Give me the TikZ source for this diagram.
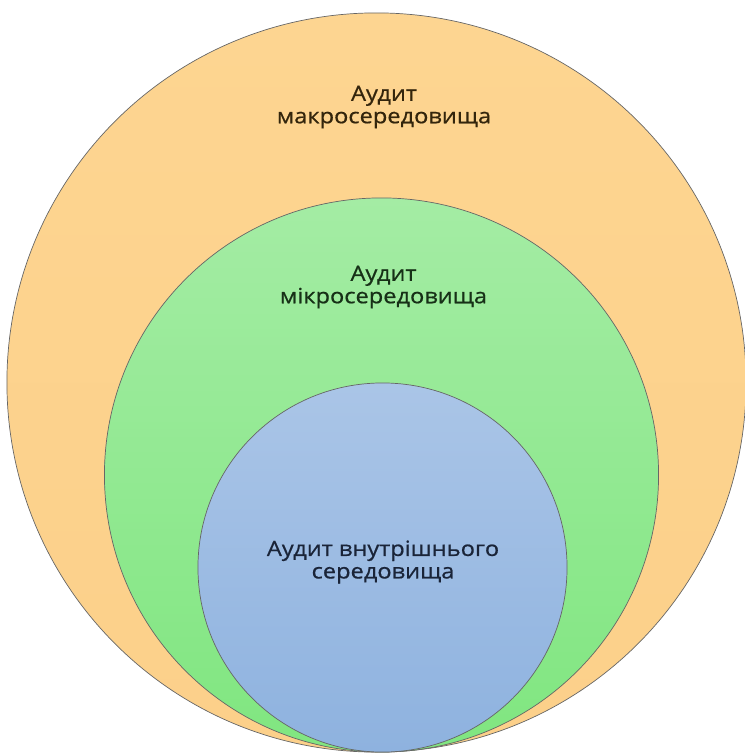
\documentclass[tikz,border=0pt]{standalone}
\usepackage{fontspec}
\setmainfont{Open Sans}[BoldFont={Open Sans}, BoldFeatures={FakeBold=0.6}]
\usepackage{tikz}
\usetikzlibrary{positioning}
\usepackage{xcolor}

\definecolor{macrofill}{HTML}{FDD591}
\definecolor{macrofillb}{HTML}{FCD08A}
\definecolor{microfill}{HTML}{A4ECA4}
\definecolor{microfillb}{HTML}{80E680}
\definecolor{innerfill}{HTML}{AAC5E7}
\definecolor{innerfillb}{HTML}{8EB2DF}
\definecolor{macrotext}{HTML}{33250C}
\definecolor{microtext}{HTML}{173017}
\definecolor{innertext}{HTML}{1A2438}

\newcommand{\wide}[1]{\scalebox{1.12}[1]{#1}}

\tikzset{
  ring/.style={circle, draw=black!60, line width=0.5pt, inner sep=0pt},
  label text/.style={align=center, font=\fontsize{15}{16}\selectfont\bfseries}
}

\begin{document}
\begin{tikzpicture}[x=0.025cm,y=-0.025cm]
\useasboundingbox (0,0) rectangle (744,754);
% circles, all touching at the bottom
\node[ring, top color=macrofill, bottom color=macrofillb, minimum size=18.475cm] (macro) at (376.5,382.5) {};
\node[ring, top color=microfill, bottom color=microfillb, minimum size=13.85cm] (micro) at (381.5,475) {};
\node[ring, top color=innerfill, bottom color=innerfillb, minimum size=9.225cm] (inner) at (382.5,567.5) {};
% labels
\node[label text, text=macrotext] (macrolabel) at (384,107) {\wide{Аудит}\\\wide{макросередовища}};
\node[label text, text=microtext] (microlabel) at (383.5,287) {\wide{Аудит}\\\wide{мікросередовища}};
\node[label text, text=innertext] (innerlabel) at (383,562) {\wide{Аудит внутрішнього}\\\wide{середовища}};
\end{tikzpicture}
\end{document}
